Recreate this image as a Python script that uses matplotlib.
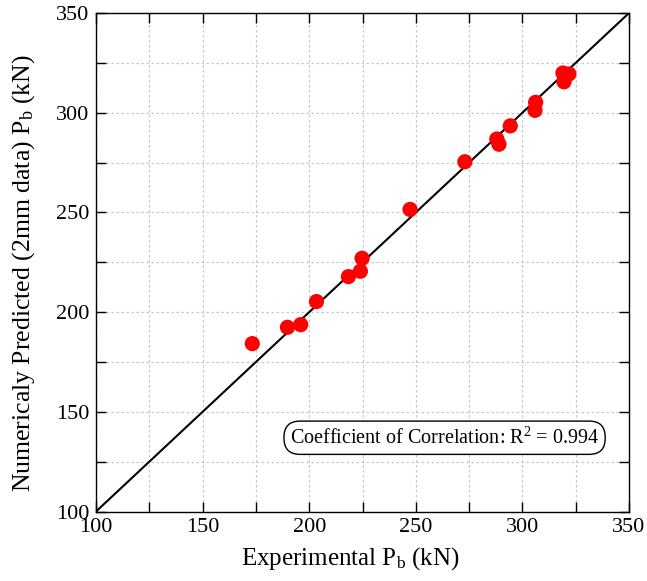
import matplotlib
matplotlib.use("Agg")
import matplotlib.pyplot as plt
from matplotlib.ticker import MultipleLocator

plt.rcParams['font.family'] = ['Liberation Serif', 'DejaVu Serif']
plt.rcParams['mathtext.fontset'] = 'custom'
plt.rcParams['mathtext.rm'] = 'Liberation Serif'
plt.rcParams['mathtext.it'] = 'Liberation Serif:italic'

experimental = [173.3, 189.8, 196.0, 203.4, 218.4, 224.0, 224.8, 247.3,
                273.0, 288.0, 289.0, 294.3, 306.2, 305.9, 319.0, 321.8, 319.5]
predicted = [184.2, 192.4, 193.7, 205.3, 217.8, 220.5, 227.0, 251.5,
             275.4, 286.8, 284.2, 293.4, 305.2, 301.2, 319.9, 319.4, 315.5]
line_x = [100, 350]
line_y = [100, 350]
r2_text = "Coefficient of Correlation: R$^2$ = 0.994"

fig = plt.figure(figsize=(6.47, 5.81), dpi=100)
ax = fig.add_axes([0.1484, 0.1196, 0.8238, 0.858])

ax.plot(line_x, line_y, color='black', lw=1.5, zorder=2)
ax.scatter(experimental, predicted, s=120, color='#ff0000', zorder=3, edgecolors='none')

ax.set_xlim(100, 350)
ax.set_ylim(100, 350)
ax.xaxis.set_major_locator(MultipleLocator(50))
ax.yaxis.set_major_locator(MultipleLocator(50))
ax.xaxis.set_minor_locator(MultipleLocator(25))
ax.yaxis.set_minor_locator(MultipleLocator(25))
ax.grid(True, which='both', linestyle=(0, (2, 2)), color='#c8c8c8', lw=0.9, zorder=0)
ax.set_axisbelow(True)
ax.tick_params(which='both', direction='in', top=True, right=True, length=7, width=1, labelsize=16, pad=5)

for s in ax.spines.values():
    s.set_linewidth(1.0)

ax.set_xlabel("Experimental P$_\\mathrm{b}$ (kN)", fontsize=18)
ax.set_ylabel("Numericaly Predicted (2mm data) P$_\\mathrm{b}$ (kN)", fontsize=18.5)
ax.xaxis.set_label_coords(0.478, -0.068)
ax.yaxis.set_label_coords(-0.111, 0.478)

ax.text(263.5, 137.0, r2_text, fontsize=14.5, ha='center', va='center',
        bbox=dict(boxstyle='round,pad=0.3,rounding_size=0.8', fc='white', ec='black', lw=1.0), zorder=4)

fig.savefig("out.png", dpi=100)
